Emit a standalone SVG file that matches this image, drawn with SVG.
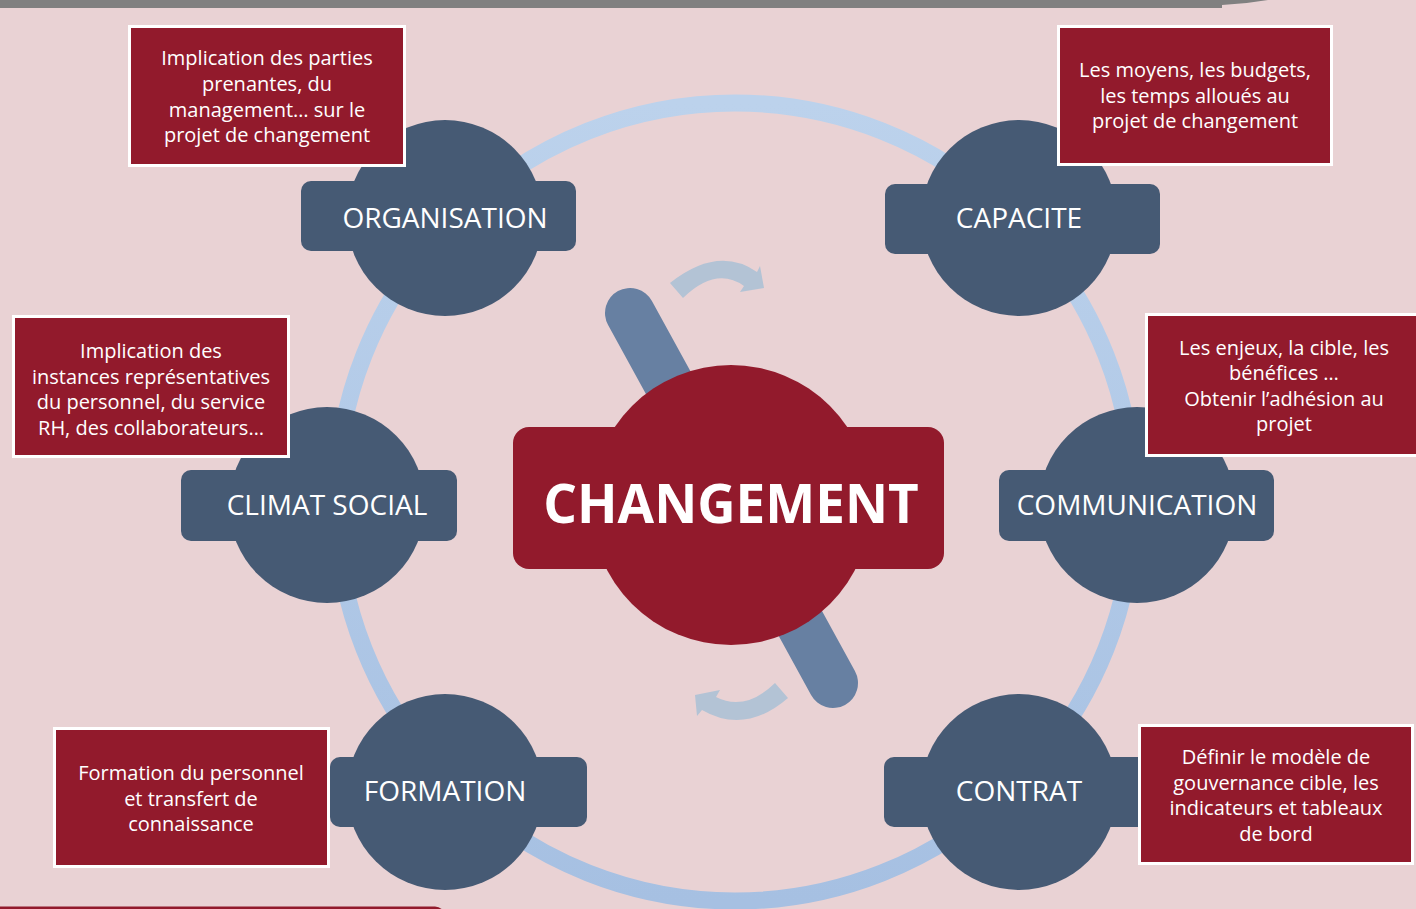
<svg xmlns="http://www.w3.org/2000/svg" width="1416" height="909" viewBox="0 0 1416 909">
  <defs>
    <linearGradient id="ringGrad" x1="0" y1="0" x2="0" y2="1">
      <stop offset="0" stop-color="#BCD2EC"/>
      <stop offset="1" stop-color="#A6C0E2"/>
    </linearGradient>
  </defs>
  <style>
    .node-c { fill: #465A74; }
    .node-r { fill: #465A74; }
    .node-t { font-family: "Open Sans", "Liberation Sans", sans-serif; font-size: 28px; fill: #FFFFFF; text-anchor: middle; }
    .box { fill: #921A2C; stroke: #FFFFFF; stroke-width: 3; }
    .box-t { font-family: "Open Sans", "Liberation Sans", sans-serif; font-size: 20px; fill: #FFFFFF; text-anchor: middle; }
    .rot { fill: #B3C3D5; }
  </style>

  <rect x="0" y="0" width="1416" height="909" fill="#E9D2D4"/>
  <path d="M0,0 H1268 Q1245,4 1222,5 V8 H0 Z" fill="#808080"/>
  <rect x="-10" y="906.5" width="455" height="20" rx="10" fill="#921A2C"/>

  <g id="connectors">
    <circle cx="735" cy="502" r="399" fill="none" stroke="url(#ringGrad)" stroke-width="17"/>
  </g>

  <g id="center-deco">
    <line x1="630" y1="313" x2="833" y2="683" stroke="#6780A2" stroke-width="50" stroke-linecap="round"/>
    <path class="rot" d="M670,283 Q718,245 757,272 L760,266 L764,288 L740,292 L744,286 Q716,266 683,298 Z"/>
    <path class="rot" d="M788,698 Q745,735 702,710 L697,716 L695,695 L720,690 L716,697 Q745,712 775,683 Z"/>
  </g>

  <g id="node-changement">
    <circle cx="731" cy="505" r="140" fill="#921A2C"/>
    <rect x="513" y="427" width="431" height="142" rx="16" fill="#921A2C"/>
    <text x="731" y="523" font-family="'Open Sans', 'Liberation Sans', sans-serif" font-weight="bold" font-size="53" fill="#FFFFFF" text-anchor="middle">CHANGEMENT</text>
  </g>

  <g id="node-organisation">
    <circle class="node-c" cx="445" cy="218" r="98"/>
    <rect class="node-r" x="301" y="181" width="275" height="70" rx="10"/>
    <text class="node-t" x="445" y="228">ORGANISATION</text>
  </g>

  <g id="node-capacite">
    <circle class="node-c" cx="1019" cy="218" r="98"/>
    <rect class="node-r" x="885" y="184" width="275" height="70" rx="10"/>
    <text class="node-t" x="1019" y="228">CAPACITE</text>
  </g>

  <g id="node-climat-social">
    <circle class="node-c" cx="327" cy="505" r="98"/>
    <rect class="node-r" x="181" y="470" width="276" height="71" rx="10"/>
    <text class="node-t" x="327" y="515">CLIMAT SOCIAL</text>
  </g>

  <g id="node-communication">
    <circle class="node-c" cx="1137" cy="505" r="98"/>
    <rect class="node-r" x="999" y="470" width="275" height="71" rx="10"/>
    <text class="node-t" x="1137" y="515">COMMUNICATION</text>
  </g>

  <g id="node-formation">
    <circle class="node-c" cx="445" cy="792" r="98"/>
    <rect class="node-r" x="330" y="757" width="257" height="70" rx="10"/>
    <text class="node-t" x="445" y="801">FORMATION</text>
  </g>

  <g id="node-contrat">
    <circle class="node-c" cx="1019" cy="792" r="98"/>
    <rect class="node-r" x="884" y="757" width="266" height="70" rx="10"/>
    <text class="node-t" x="1019" y="801">CONTRAT</text>
  </g>

  <g id="note-organisation">
    <rect class="box" x="129.5" y="26.5" width="275" height="139"/>
    <text class="box-t" x="267" y="65">Implication des parties</text>
    <text class="box-t" x="267" y="91">prenantes, du</text>
    <text class="box-t" x="267" y="116.5">management… sur le</text>
    <text class="box-t" x="267" y="142">projet de changement</text>
  </g>

  <g id="note-capacite">
    <rect class="box" x="1058.5" y="26.5" width="273" height="138"/>
    <text class="box-t" x="1195" y="77">Les moyens, les budgets,</text>
    <text class="box-t" x="1195" y="102.5">les temps alloués au</text>
    <text class="box-t" x="1195" y="128">projet de changement</text>
  </g>

  <g id="note-climat-social">
    <rect class="box" x="13.5" y="316.5" width="275" height="140"/>
    <text class="box-t" x="151" y="358">Implication des</text>
    <text class="box-t" x="151" y="383.5">instances représentatives</text>
    <text class="box-t" x="151" y="409">du personnel, du service</text>
    <text class="box-t" x="151" y="435">RH, des collaborateurs…</text>
  </g>

  <g id="note-communication">
    <rect class="box" x="1146.5" y="314.5" width="275" height="141"/>
    <text class="box-t" x="1284" y="355">Les enjeux, la cible, les</text>
    <text class="box-t" x="1284" y="380">bénéfices …</text>
    <text class="box-t" x="1284" y="405.5">Obtenir l’adhésion au</text>
    <text class="box-t" x="1284" y="431">projet</text>
  </g>

  <g id="note-formation">
    <rect class="box" x="54.5" y="728.5" width="274" height="138"/>
    <text class="box-t" x="191" y="780">Formation du personnel</text>
    <text class="box-t" x="191" y="805.5">et transfert de</text>
    <text class="box-t" x="191" y="831">connaissance</text>
  </g>

  <g id="note-contrat">
    <rect class="box" x="1139.5" y="725.5" width="273" height="138"/>
    <text class="box-t" x="1276" y="764">Définir le modèle de</text>
    <text class="box-t" x="1276" y="789.5">gouvernance cible, les</text>
    <text class="box-t" x="1276" y="815">indicateurs et tableaux</text>
    <text class="box-t" x="1276" y="841">de bord</text>
  </g>
</svg>
